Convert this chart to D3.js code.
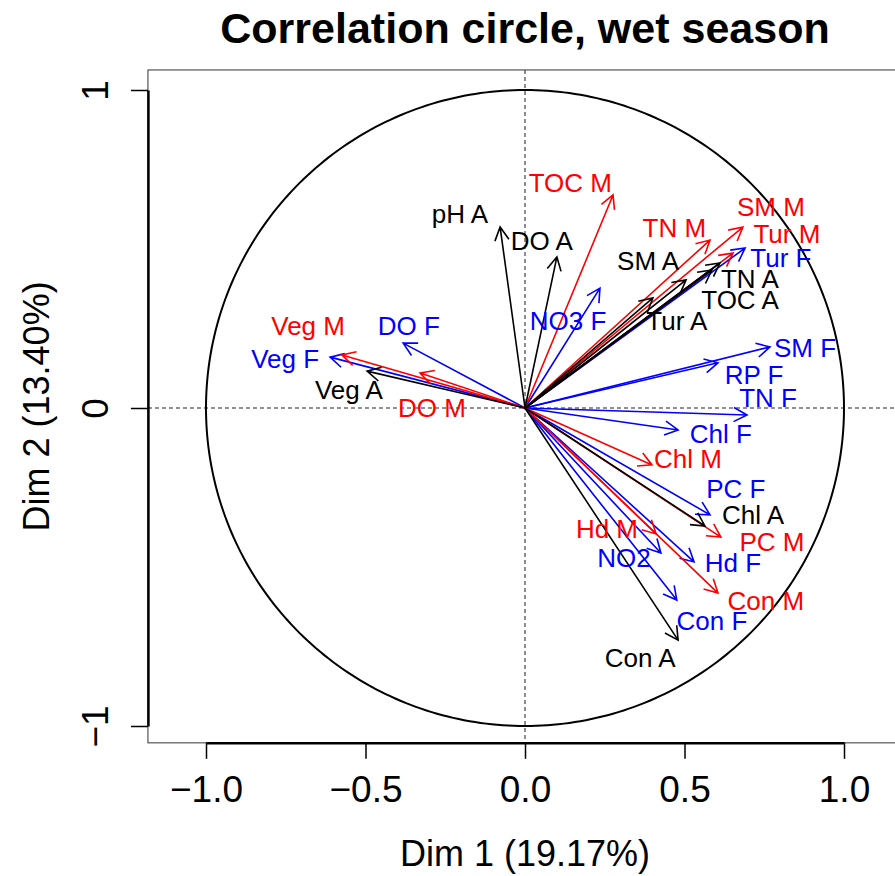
<!DOCTYPE html>
<html>
<head>
<meta charset="utf-8">
<script src="https://cdn.jsdelivr.net/npm/d3@7"></script>
<style>
  html, body { margin: 0; padding: 0; background: #fff; }
  svg { display: block; font-family: "Liberation Sans", Arial, Helvetica, sans-serif; }
</style>
</head>
<body>
<svg id="chart" width="895" height="876"></svg>
<script>
// ---- Data ----
const variables = ["pH A","DO A","SM A","TN A","TOC A","Tur A","Veg A","Chl A","Con A",
                   "TOC M","TN M","SM M","Tur M","Veg M","DO M","Chl M","Hd M","PC M","Con M",
                   "Tur F","SM F","RP F","TN F","Chl F","PC F","Hd F","NO2","Con F","DO F","Veg F","NO3 F"];
const groups = ["A","A","A","A","A","A","A","A","A",
                "M","M","M","M","M","M","M","M","M","M",
                "F","F","F","F","F","F","F","F","F","F","F","F"];
const dim1 = [-0.078, 0.100, 0.505, 0.611, 0.586, 0.401, -0.495, 0.564, 0.480,
              0.276, 0.580, 0.683, 0.652, -0.574, -0.329, 0.398, 0.411, 0.614, 0.605,
              0.690, 0.768, 0.605, 0.696, 0.480, 0.580, 0.530, 0.426, 0.476, -0.382, -0.611, 0.235];
const dim2 = [0.569, 0.475, 0.403, 0.456, 0.434, 0.346, 0.116, -0.371, -0.730,
              0.670, 0.528, 0.569, 0.487, 0.167, 0.110, -0.179, -0.396, -0.406, -0.582,
              0.503, 0.192, 0.142, -0.022, -0.069, -0.336, -0.484, -0.456, -0.604, 0.204, 0.160, 0.377];
// label anchor positions (text centre, baseline) in the same Dim units
const labelDim1 = [-0.204, 0.053, 0.386, 0.705, 0.674, 0.476, -0.552, 0.715, 0.361,
                   0.142, 0.468, 0.771, 0.821, -0.680, -0.292, 0.511, 0.257, 0.774, 0.755,
                   0.802, 0.878, 0.718, 0.762, 0.614, 0.661, 0.652, 0.310, 0.586, -0.364, -0.752, 0.135];
const labelDim2 = [0.581, 0.497, 0.434, 0.377, 0.311, 0.245, 0.028, -0.365, -0.814,
                   0.679, 0.538, 0.604, 0.519, 0.230, -0.028, -0.189, -0.410, -0.450, -0.635,
                   0.443, 0.160, 0.075, 0.003, -0.110, -0.283, -0.516, -0.500, -0.698, 0.230, 0.125, 0.245];
const groupColors = { A: "#000000", M: "#FF0000", F: "#0000FF" };
const drawOrder = ["F", "M", "A"];
const xTicks = [-1.0, -0.5, 0.0, 0.5, 1.0];
const yTicks = [-1, 0, 1];
const titleText = "Correlation circle, wet season";
const xLabel = "Dim 1 (19.17%)";
const yLabel = "Dim 2 (13.40%)";
const xlim = [-1.182, 1.182];
const ylim = [-1.053, 1.063];

// ---- Layout ----
const svg = d3.select("#chart");
const x = d3.scaleLinear().domain([-1, 1]).range([206, 844]);
const y = d3.scaleLinear().domain([-1, 1]).range([726, 90]);
const fmtMinus = s => s.replace("-", "\u2212");

// title
svg.append("text")
  .attr("x", (x(xlim[0]) + x(xlim[1])) / 2).attr("y", 43)
  .attr("text-anchor", "middle").attr("font-weight", "bold").attr("font-size", 43)
  .text(titleText);

// plot box
svg.append("rect")
  .attr("x", x(xlim[0])).attr("y", y(ylim[1]))
  .attr("width", x(xlim[1]) - x(xlim[0])).attr("height", y(ylim[0]) - y(ylim[1]))
  .attr("fill", "none").attr("stroke", "#333").attr("stroke-width", 1);

// dashed reference lines
svg.append("line")
  .attr("x1", x(xlim[0])).attr("x2", x(xlim[1])).attr("y1", y(0)).attr("y2", y(0))
  .attr("stroke", "#222").attr("stroke-width", 1.2).attr("stroke-dasharray", "4,3");
svg.append("line")
  .attr("x1", x(0)).attr("x2", x(0)).attr("y1", y(ylim[1])).attr("y2", y(ylim[0]))
  .attr("stroke", "#444").attr("stroke-width", 1.2).attr("stroke-dasharray", "4,3");

// unit circle
const circ = d3.range(0, 361, 1).map(a => [Math.cos(a * Math.PI / 180), Math.sin(a * Math.PI / 180)]);
svg.append("path")
  .attr("d", d3.line().x(d => x(d[0])).y(d => y(d[1]))(circ))
  .attr("fill", "none").attr("stroke", "#000").attr("stroke-width", 2);

// axes
const xAxis = svg.append("g").attr("transform", `translate(0,${y(ylim[0])})`)
  .call(d3.axisBottom(x).tickValues(xTicks).tickSize(16).tickSizeOuter(0)
        .tickFormat(d => fmtMinus(d3.format(".1f")(d))));
xAxis.select(".domain").attr("stroke-width", 2.5);
xAxis.selectAll(".tick line").attr("stroke-width", 1.5);
xAxis.selectAll(".tick text").attr("y", 59).attr("dy", 0)
  .attr("font-size", 37).attr("font-family", "Liberation Sans, Arial, sans-serif").attr("fill", "#000");

const yAxis = svg.append("g").attr("transform", `translate(${x(xlim[0])},0)`)
  .call(d3.axisLeft(y).tickValues(yTicks).tickSize(17).tickSizeOuter(0)
        .tickFormat(d => fmtMinus(d3.format("d")(d))));
yAxis.select(".domain").attr("stroke-width", 2.5);
yAxis.selectAll(".tick line").attr("stroke-width", 1.5);
yAxis.selectAll(".tick text")
  .attr("x", 0).attr("y", -40).attr("dy", 0)
  .attr("transform", "rotate(-90)").attr("text-anchor", "middle")
  .attr("font-size", 37).attr("font-family", "Liberation Sans, Arial, sans-serif").attr("fill", "#000");

// axis titles
svg.append("text")
  .attr("x", (x(xlim[0]) + x(xlim[1])) / 2).attr("y", 866)
  .attr("text-anchor", "middle").attr("font-size", 36).text(xLabel);
svg.append("text")
  .attr("transform", `translate(49,${(y(ylim[0]) + y(ylim[1])) / 2}) rotate(-90)`)
  .attr("text-anchor", "middle").attr("font-size", 36).text(yLabel);

// arrows
const data = variables.map((v, i) => ({ name: v, g: groups[i], d1: dim1[i], d2: dim2[i], lx: labelDim1[i], ly: labelDim2[i] }));
const headLen = 15, headAng = 28 * Math.PI / 180;
const arrows = svg.append("g");
drawOrder.forEach(g => {
  data.filter(d => d.g === g).forEach(d => {
    const x0 = x(0), y0 = y(0), x1 = x(d.d1), y1 = y(d.d2);
    const ang = Math.atan2(y1 - y0, x1 - x0);
    const p1 = [x1 - headLen * Math.cos(ang - headAng), y1 - headLen * Math.sin(ang - headAng)];
    const p2 = [x1 - headLen * Math.cos(ang + headAng), y1 - headLen * Math.sin(ang + headAng)];
    arrows.append("path")
      .attr("d", `M${x0},${y0}L${x1},${y1}M${p1[0]},${p1[1]}L${x1},${y1}L${p2[0]},${p2[1]}`)
      .attr("fill", "none").attr("stroke", groupColors[g]).attr("stroke-width", 1.6)
      .attr("stroke-linejoin", "miter");
  });
});

// labels
svg.append("g").selectAll("text").data(data).join("text")
  .attr("x", d => x(d.lx)).attr("y", d => y(d.ly))
  .attr("text-anchor", "middle").attr("font-size", 26)
  .attr("fill", d => groupColors[d.g])
  .text(d => d.name);
</script>
</body>
</html>
